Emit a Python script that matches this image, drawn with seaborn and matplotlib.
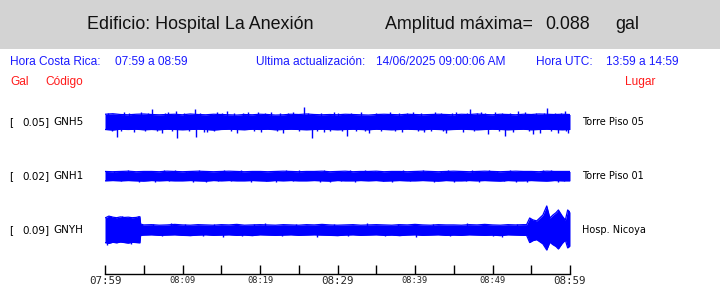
import numpy as np
import matplotlib
matplotlib.use("Agg")
import matplotlib.pyplot as plt
from matplotlib.patches import Rectangle
import seaborn as sns

# ---------------- data ----------------
minutes = list(range(61))
tick_minutes = [0, 5, 10, 15, 20, 25, 30, 35, 40, 45, 50, 55, 60]
tick_labels = ["07:59", "", "08:09", "", "08:19", "", "08:29", "", "08:39", "", "08:49", "", "08:59"]
big_labels = ["07:59", "08:29", "08:59"]

codes = ["GNH5", "GNH1", "GNYH"]
peaks = ["0.05]", "0.02]", "0.09]"]
places = ["Torre Piso 05", "Torre Piso 01", "Hosp. Nicoya"]

# envelope of each trace (gal), upper and lower half
gnh5_up = [0.029, 0.031, 0.028, 0.027, 0.029, 0.030, 0.028, 0.027, 0.028, 0.029,
           0.027, 0.030, 0.028, 0.027, 0.029, 0.028, 0.027, 0.026, 0.028, 0.027,
           0.029, 0.028, 0.026, 0.027, 0.029, 0.028, 0.030, 0.028, 0.027, 0.028,
           0.027, 0.029, 0.028, 0.027, 0.026, 0.028, 0.029, 0.028, 0.027, 0.029,
           0.028, 0.027, 0.028, 0.029, 0.028, 0.027, 0.029, 0.028, 0.030, 0.028,
           0.027, 0.029, 0.028, 0.027, 0.029, 0.028, 0.030, 0.029, 0.028, 0.029,
           0.028]
gnh5_lo = [0.028, 0.030, 0.027, 0.028, 0.027, 0.029, 0.028, 0.029, 0.027, 0.028,
           0.029, 0.028, 0.027, 0.028, 0.030, 0.028, 0.027, 0.028, 0.029, 0.027,
           0.028, 0.027, 0.029, 0.028, 0.027, 0.028, 0.029, 0.028, 0.027, 0.028,
           0.029, 0.028, 0.027, 0.028, 0.029, 0.027, 0.028, 0.029, 0.028, 0.027,
           0.028, 0.029, 0.027, 0.028, 0.029, 0.028, 0.027, 0.028, 0.029, 0.028,
           0.027, 0.028, 0.029, 0.028, 0.027, 0.029, 0.028, 0.027, 0.028, 0.029,
           0.028]
gnh5_spike_t = [1.6, 2.5, 3.8, 4.6, 6.0, 7.3, 8.1, 9.2, 9.3, 11.6, 11.7, 13.2, 14.4, 15.7,
                17.0, 18.5, 20.1, 21.4, 23.0, 24.3, 25.7, 26.7, 28.2, 29.5, 31.2, 33.0,
                34.1, 36.8, 38.3, 39.8, 41.2, 42.6, 44.0, 45.3, 46.2, 47.1, 48.5, 49.4,
                50.3, 51.6, 52.7, 53.3, 54.2, 55.2, 56.1, 57.0, 58.4, 59.3, 59.8,
                0.4, 0.9, 2.0, 3.1, 5.2, 5.6, 6.7, 7.8, 8.6, 10.2, 10.8, 12.3, 12.8,
                14.0, 15.1, 16.2, 16.6, 17.8, 19.2, 19.7, 20.7, 22.2, 22.6, 23.6, 25.0,
                26.2, 27.4, 27.9, 29.0, 30.1, 30.6, 31.8, 32.4, 33.6, 35.0, 35.6, 37.4,
                37.9, 39.0, 40.4, 40.8, 42.0, 43.3, 43.6, 44.8, 46.7, 47.6, 48.0, 49.0,
                50.8, 51.2, 52.2, 54.7, 55.6, 56.6, 57.5, 58.0, 58.9, 59.5]
gnh5_spike_a = [-0.055, 0.036, -0.038, 0.037, 0.049, -0.040, 0.038, 0.042, -0.059, 0.047,
                -0.055, -0.039, 0.036, 0.041, -0.040, 0.038, -0.037, 0.039, -0.041, 0.036,
                0.055, -0.059, -0.038, 0.037, -0.051, 0.038, -0.040, 0.037, -0.039, 0.038,
                -0.037, 0.039, -0.041, 0.037, -0.038, 0.047, 0.038, -0.045, 0.036, -0.051,
                -0.039, 0.040, 0.037, -0.045, -0.041, 0.053, -0.043, 0.040, -0.040,
                0.034, -0.035, -0.033, 0.035, -0.034, 0.033, -0.035, 0.034, -0.033, 0.035,
                -0.034, 0.033, -0.036, -0.033, 0.034, -0.035, 0.035, 0.033, -0.034, 0.036,
                0.034, -0.035, 0.034, 0.033, -0.034, 0.034, -0.035, 0.035, -0.033, 0.034,
                -0.035, 0.035, -0.034, -0.033, 0.035, -0.034, -0.035, 0.034, 0.033, -0.034,
                0.035, -0.035, 0.034, -0.033, 0.035, 0.034, -0.035, 0.033, 0.034, -0.034,
                0.035, 0.033, -0.034, 0.035, 0.034, -0.035, 0.034, 0.035, -0.033]

gnh1_up = [0.017, 0.016, 0.017, 0.018, 0.016, 0.017, 0.017, 0.016, 0.018, 0.017,
           0.016, 0.017, 0.018, 0.017, 0.016, 0.017, 0.018, 0.017, 0.016, 0.017,
           0.017, 0.016, 0.017, 0.018, 0.017, 0.016, 0.017, 0.017, 0.018, 0.016,
           0.017, 0.018, 0.016, 0.017, 0.017, 0.018, 0.016, 0.017, 0.017, 0.016,
           0.017, 0.018, 0.017, 0.016, 0.017, 0.018, 0.017, 0.016, 0.017, 0.018,
           0.017, 0.016, 0.017, 0.018, 0.017, 0.017, 0.016, 0.018, 0.017, 0.017,
           0.017]
gnh1_lo = [0.018, 0.017, 0.018, 0.017, 0.018, 0.019, 0.017, 0.018, 0.017, 0.018,
           0.018, 0.017, 0.018, 0.019, 0.017, 0.018, 0.017, 0.018, 0.018, 0.017,
           0.018, 0.019, 0.017, 0.018, 0.017, 0.018, 0.018, 0.017, 0.018, 0.019,
           0.017, 0.018, 0.018, 0.017, 0.018, 0.017, 0.019, 0.018, 0.017, 0.018,
           0.018, 0.017, 0.018, 0.019, 0.017, 0.018, 0.018, 0.017, 0.018, 0.017,
           0.018, 0.019, 0.017, 0.018, 0.018, 0.017, 0.018, 0.019, 0.017, 0.018,
           0.018]
gnh1_spike_t = [3.0, 6.5, 9.0, 13.0, 17.5, 22.0, 25.0, 29.0, 33.5, 37.0, 41.0, 45.0,
                49.5, 53.0, 56.5, 58.5,
                1.2, 2.1, 4.4, 5.3, 7.6, 8.2, 10.5, 11.3, 12.1, 14.6, 15.4, 16.3, 18.8,
                19.9, 20.8, 23.4, 24.2, 26.6, 27.7, 28.2, 30.5, 31.6, 32.2, 34.8, 35.9,
                38.4, 39.3, 40.2, 42.5, 43.4, 44.2, 46.6, 47.4, 48.3, 50.6, 51.5, 52.3,
                54.5, 55.4, 57.6, 59.2]
gnh1_spike_a = [0.022, -0.023, 0.022, -0.022, 0.021, -0.023, 0.022, -0.022, 0.022,
                -0.021, 0.022, -0.023, 0.022, -0.022, 0.024, -0.023,
                0.020, -0.020, -0.021, 0.020, 0.021, -0.020, 0.020, -0.021, 0.021,
                -0.020, 0.021, -0.020, -0.021, 0.020, -0.020, 0.021, -0.020, 0.020,
                -0.021, 0.021, -0.020, 0.021, -0.021, 0.020, -0.020, 0.021, -0.020,
                0.020, -0.021, 0.020, 0.021, -0.020, 0.021, -0.021, 0.020, -0.020,
                0.021, -0.021, 0.020, 0.021, -0.020]

gnyh_t = [0, 0.5, 1, 1.5, 2, 2.5, 3, 3.5, 4, 4.5, 4.6,
          5, 6, 7, 8, 9, 10, 11, 12, 13, 14,
          15, 16, 17, 18, 19, 20, 21, 22, 23, 24,
          25, 26, 27, 28, 29, 30, 31, 32, 33, 34,
          35, 36, 37, 38, 39, 40, 41, 42, 43, 44,
          45, 46, 47, 48, 49, 50, 51, 52, 53, 54,
          54.4, 54.8, 55.2, 55.7, 56.1, 56.5, 57.0, 57.4, 57.8, 58.2, 58.5, 59.0,
          59.4, 59.7, 60.0]
gnyh_up = [0.045, 0.052, 0.048, 0.046, 0.049, 0.047, 0.048, 0.046, 0.047, 0.050, 0.022,
           0.019, 0.020, 0.018, 0.019, 0.021, 0.019, 0.018, 0.020, 0.019, 0.018,
           0.020, 0.019, 0.021, 0.018, 0.019, 0.020, 0.019, 0.018, 0.020, 0.019,
           0.018, 0.020, 0.019, 0.021, 0.019, 0.018, 0.019, 0.020, 0.018, 0.019,
           0.020, 0.019, 0.018, 0.020, 0.019, 0.021, 0.019, 0.018, 0.020, 0.019,
           0.019, 0.018, 0.020, 0.019, 0.021, 0.019, 0.018, 0.020, 0.019, 0.020,
           0.020, 0.045, 0.038, 0.034, 0.045, 0.056, 0.090, 0.045, 0.056, 0.065, 0.075, 0.052,
           0.037, 0.075, 0.067]
gnyh_lo = [0.047, 0.050, 0.046, 0.048, 0.045, 0.047, 0.049, 0.046, 0.047, 0.048, 0.020,
           0.019, 0.018, 0.020, 0.019, 0.018, 0.020, 0.021, 0.019, 0.018, 0.020,
           0.019, 0.018, 0.020, 0.019, 0.021, 0.018, 0.019, 0.020, 0.019, 0.018,
           0.020, 0.019, 0.018, 0.019, 0.020, 0.021, 0.019, 0.018, 0.020, 0.019,
           0.018, 0.020, 0.019, 0.021, 0.019, 0.018, 0.020, 0.019, 0.018, 0.020,
           0.019, 0.020, 0.018, 0.019, 0.020, 0.019, 0.021, 0.018, 0.019, 0.020,
           0.020, 0.047, 0.040, 0.036, 0.044, 0.052, 0.075, 0.046, 0.055, 0.062, 0.071, 0.050,
           0.038, 0.067, 0.060]
gnyh_spike_t = [0.3, 0.8, 2.2, 3.3, 4.2, 8.5, 15.2, 20.6, 27.3, 33.8, 40.1, 46.7, 51.2,
                6.2, 7.4, 10.3, 12.6, 14.1, 17.7, 19.2, 22.8, 24.6, 29.5, 31.4, 36.1,
                37.8, 42.3, 44.5, 48.8, 50.0, 53.1]
gnyh_spike_a = [-0.055, 0.054, 0.051, -0.052, 0.053, 0.026, -0.026, 0.025, -0.027,
                0.026, -0.026, 0.025, -0.025,
                0.023, -0.023, 0.022, -0.023, 0.023, -0.022, 0.023, -0.023, 0.022,
                0.023, -0.022, -0.023, 0.022, 0.023, -0.022, 0.023, -0.023, 0.022]

# ---------------- style / layout ----------------
sns.set_style("white")
plt.rcParams["font.family"] = ["DejaVu Sans"]
SANS = ["Liberation Sans", "DejaVu Sans"]
W, H = 720, 288
BLUE = "#0000ff"
SCALE = 267.0  # px per gal
centers = [122, 176, 230]

fig = plt.figure(figsize=(W / 100, H / 100), dpi=100)
fig.patch.set_facecolor("white")


def fx(x):
    return x / W


def fy(y):
    return 1 - y / H


# header band
fig.patches.append(Rectangle((0, fy(49)), 1, 49 / H, transform=fig.transFigure,
                             facecolor="#d3d3d3", edgecolor="none", zorder=0))

for x, s in [(87, "Edificio: Hospital La Anexión"), (385, "Amplitud máxima="),
             (545, "0.088"), (615, "gal")]:
    fig.text(fx(x), fy(29), s, family=SANS, size=12.9, color="#111111",
             va="baseline", ha="left")

blue_items = [(10, "Hora Costa Rica:"), (115, "07:59 a 08:59"),
              (256, "Ultima actualización:"), (376, "14/06/2025 09:00:06 AM"),
              (536, "Hora UTC:"), (606, "13:59 a 14:59")]
for x, s in blue_items:
    fig.text(fx(x), fy(65), s, family=SANS, size=8.6, color="#1a1aff",
             va="baseline", ha="left")

red_items = [(10, "Gal"), (45, "Código"), (625, "Lugar")]
for x, s in red_items:
    fig.text(fx(x), fy(85), s, family=SANS, size=8.6, color="#ff1a1a",
             va="baseline", ha="left")

for c, pk, code, place in zip(centers, peaks, codes, places):
    fig.text(fx(9), fy(c), "[", size=7.5, va="center", ha="left", color="black")
    fig.text(fx(22.5), fy(c), pk, size=7.5, va="center", ha="left", color="black")
    fig.text(fx(53.5), fy(c), code, size=7.5, va="center", ha="left", color="black")
    fig.text(fx(582), fy(c), place, size=7, va="center", ha="left", color="black")

# trace axes
ax = fig.add_axes([fx(105), 14 / H, 465 / W, (274 - 96) / H])
ax.set_facecolor("none")
ax.set_xlim(0, 60)
ax.set_ylim(274, 96)

traces = [
    (minutes, gnh5_up, gnh5_lo, gnh5_spike_t, gnh5_spike_a),
    (minutes, gnh1_up, gnh1_lo, gnh1_spike_t, gnh1_spike_a),
    (gnyh_t, gnyh_up, gnyh_lo, gnyh_spike_t, gnyh_spike_a),
]
for c, (t, up, lo, st, sa) in zip(centers, traces):
    t = np.asarray(t, float)
    top = c - np.asarray(up) * SCALE
    bot = c + np.asarray(lo) * SCALE
    ax.fill_between(t, top, bot, color=BLUE, linewidth=0, zorder=2)
    sns.lineplot(x=t, y=top, ax=ax, color=BLUE, linewidth=0.9, zorder=3)
    sns.lineplot(x=t, y=bot, ax=ax, color=BLUE, linewidth=0.9, zorder=3)
    sa = np.asarray(sa)
    ax.vlines(st, c, c - sa * SCALE, color=BLUE, linewidth=1.0, zorder=3)

for side in ["left", "right", "top"]:
    ax.spines[side].set_visible(False)
ax.spines["bottom"].set_color("black")
ax.spines["bottom"].set_linewidth(1.0)
ax.set_yticks([])
ax.set_xticks(tick_minutes)
ax.set_xticklabels(tick_labels)
ax.tick_params(axis="x", bottom=True, direction="in", length=6.5, width=1.0,
               color="black", pad=1.5)
for lab in ax.get_xticklabels():
    lab.set_family("DejaVu Sans Mono")
    if lab.get_text() in big_labels:
        lab.set_fontsize(7.8)
    else:
        lab.set_fontsize(6.3)
ax.set_xlabel("")
ax.set_ylabel("")

fig.savefig("out.png", dpi=100)
